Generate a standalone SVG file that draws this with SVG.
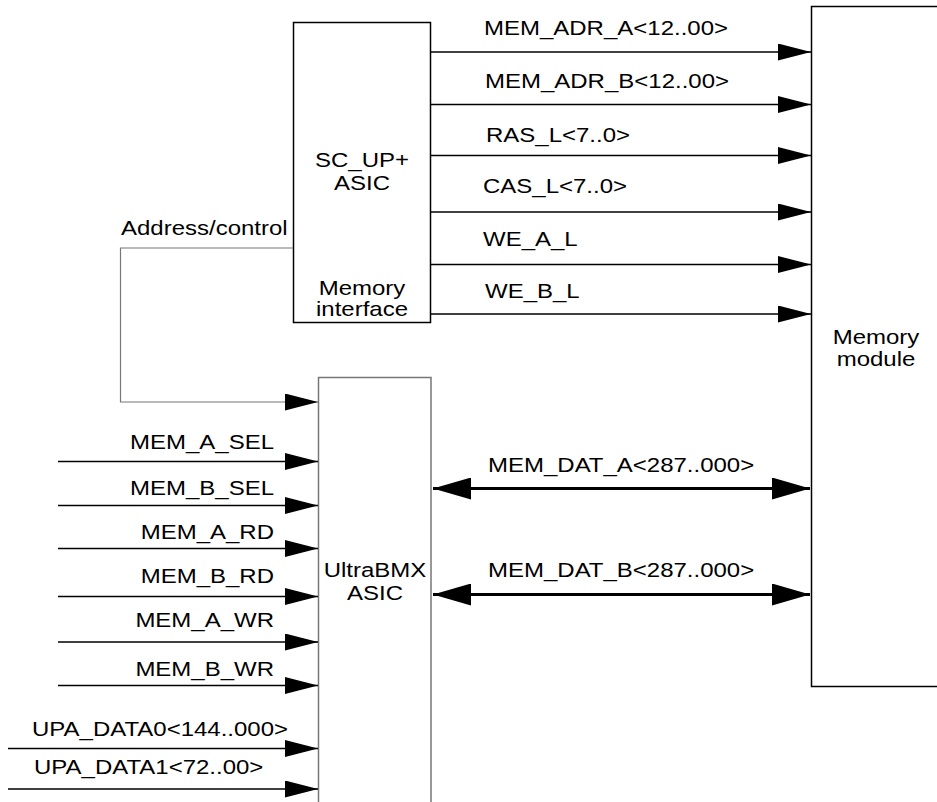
<svg xmlns="http://www.w3.org/2000/svg" width="937" height="802" viewBox="0 0 937 802">
<style>
text{font-family:"Liberation Sans",Arial,sans-serif;font-size:24px;fill:#000}
.mid{text-anchor:middle}
.end{text-anchor:end}
.box{fill:#fff;stroke:#000;stroke-width:1.5}
.gbox{fill:none;stroke:#777;stroke-width:1.5}
.w{fill:none;stroke:#000;stroke-width:1.5;marker-end:url(#arr)}
.g{fill:none;stroke:#777;stroke-width:1.2;marker-end:url(#arr)}
.bus{fill:none;stroke:#000;stroke-width:3;marker-end:url(#big);marker-start:url(#big)}
</style>
<defs>
<marker id="arr" markerUnits="userSpaceOnUse" markerWidth="33" markerHeight="17" refX="33" refY="8.5" orient="auto" viewBox="0 0 33 17">
<path d="M0,0 L33,8.5 L0,17 z" fill="#000"/>
</marker>
<marker id="big" markerUnits="userSpaceOnUse" markerWidth="38" markerHeight="22" refX="38" refY="11" orient="auto-start-reverse" viewBox="0 0 38 22">
<path d="M0,0 L38,11 L0,22 z" fill="#000"/>
</marker>
</defs>
<rect width="937" height="802" fill="#fff"/>
<g id="scup">
<rect class="box" x="293.5" y="22.5" width="137" height="300"/>
<text class="mid" transform="translate(362,167) scale(1,0.88)">SC_UP+</text>
<text class="mid" transform="translate(362,190) scale(1,0.88)">ASIC</text>
<text class="mid" transform="translate(362,295) scale(1,0.86)">Memory</text>
<text class="mid" transform="translate(362,316) scale(1,0.86)">interface</text>
</g>
<g id="memmod">
<path class="box" d="M940,6.5 H811.5 V686.5 H940"/>
<text class="mid" transform="translate(876,344) scale(1,0.86)">Memory</text>
<text class="mid" transform="translate(876,366) scale(1,0.86)">module</text>
</g>
<g id="ultrabmx">
<path class="gbox" d="M318.5,805 V377.5 H431 V805"/>
<text class="mid" transform="translate(375,577) scale(1,0.88)">UltraBMX</text>
<text class="mid" transform="translate(375,600) scale(1,0.88)">ASIC</text>
</g>
<g id="connectors">
<path class="w" d="M431,52 H811"/>
<path class="w" d="M431,104.5 H811"/>
<path class="w" d="M431,155.5 H811"/>
<path class="w" d="M431,212 H811"/>
<path class="w" d="M431,264.5 H811"/>
<path class="w" d="M431,314 H811"/>
<path class="g" d="M293,248 H120.5 V402 H318"/>
<path class="w" d="M58,461.5 H318"/>
<path class="w" d="M58,505.5 H318"/>
<path class="w" d="M58,548.5 H318"/>
<path class="w" d="M58,596.5 H318"/>
<path class="w" d="M58,642 H318"/>
<path class="w" d="M58,685.5 H318"/>
<path class="w" d="M8,748.5 H318"/>
<path class="w" d="M8,789 H318"/>
<path class="bus" d="M433,488.5 H810"/>
<path class="bus" d="M433,594.5 H810"/>
</g>
<g id="labels">
<text transform="translate(484,35) scale(1,0.88)">MEM_ADR_A&lt;12..00&gt;</text>
<text transform="translate(485,88) scale(1,0.88)">MEM_ADR_B&lt;12..00&gt;</text>
<text transform="translate(486,142) scale(1,0.88)">RAS_L&lt;7..0&gt;</text>
<text transform="translate(483,193) scale(1,0.88)">CAS_L&lt;7..0&gt;</text>
<text transform="translate(483,246) scale(1,0.88)">WE_A_L</text>
<text transform="translate(485,298) scale(1,0.88)">WE_B_L</text>
<text transform="translate(121,235) scale(1,0.88)">Address/control</text>
<text class="end" transform="translate(274,449) scale(1,0.88)">MEM_A_SEL</text>
<text class="end" transform="translate(274,495) scale(1,0.88)">MEM_B_SEL</text>
<text class="end" transform="translate(274,539) scale(1,0.88)">MEM_A_RD</text>
<text class="end" transform="translate(274,583) scale(1,0.88)">MEM_B_RD</text>
<text class="end" transform="translate(274,627) scale(1,0.88)">MEM_A_WR</text>
<text class="end" transform="translate(274,676) scale(1,0.88)">MEM_B_WR</text>
<text transform="translate(32,736) scale(1,0.88)">UPA_DATA0&lt;144..000&gt;</text>
<text transform="translate(34,774) scale(1,0.88)">UPA_DATA1&lt;72..00&gt;</text>
<text transform="translate(488,472) scale(1,0.88)">MEM_DAT_A&lt;287..000&gt;</text>
<text transform="translate(488,577) scale(1,0.88)">MEM_DAT_B&lt;287..000&gt;</text>
</g>
</svg>
